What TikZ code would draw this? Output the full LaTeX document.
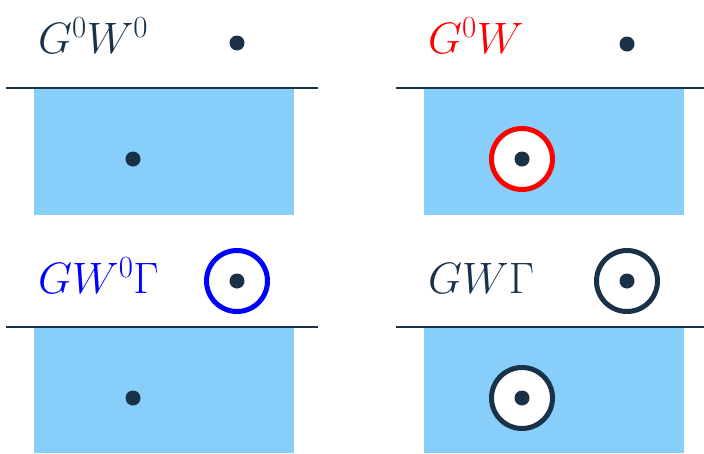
\RequirePackage{fix-cm}
\documentclass[tikz,border=0pt]{standalone}
\usepackage{amsmath}
\definecolor{navy}{HTML}{1A3248}
\definecolor{skyfill}{HTML}{87CEFA}
\tikzset{
  dotmark/.style={circle,fill=navy,inner sep=0pt,minimum size=15pt},
  ringmark/.style={circle,draw=#1,line width=5pt,fill=white,minimum size=61pt,inner sep=0pt},
  lbl/.style={anchor=base west,inner sep=0pt,font=\fontsize{44}{50}\selectfont},
  sea/.style={fill=skyfill,draw=none},
  surf/.style={draw=navy,line width=1.2pt}
}
\begin{document}
\begin{tikzpicture}[x=1pt,y=-1pt]
\useasboundingbox (0,0) rectangle (704,453);
% panel 1
\fill[sea] (34,88) rectangle (294,215);
\coordinate (s1a) at (6,88); \coordinate (s1b) at (318,88);
\draw[surf] (s1a) -- (s1b);
\node[lbl,text=navy] (l1) at (38,53) {$G^0W^0$};
\node[dotmark] (d1a) at (237,43) {};
\node[dotmark] (d1b) at (133,159) {};
% panel 2
\fill[sea] (424,88) rectangle (684,215);
\coordinate (s2a) at (396,88); \coordinate (s2b) at (708,88);
\draw[surf] (s2a) -- (s2b);
\node[lbl,text=red] (l2) at (428,53) {$G^0W$};
\node[dotmark] (d2a) at (627,44) {};
\node[ringmark=red] (r2) at (522,159) {};
\node[dotmark] (d2b) at (522,159) {};
% panel 3
\fill[sea] (34,327) rectangle (294,453);
\coordinate (s3a) at (6,327); \coordinate (s3b) at (318,327);
\draw[surf] (s3a) -- (s3b);
\node[lbl,text=blue] (l3) at (38,293) {$GW^0\Gamma$};
\node[ringmark=blue] (r3) at (237,281) {};
\node[dotmark] (d3a) at (237,281) {};
\node[dotmark] (d3b) at (133,398) {};
% panel 4
\fill[sea] (424,327) rectangle (684,453);
\coordinate (s4a) at (396,327); \coordinate (s4b) at (708,327);
\draw[surf] (s4a) -- (s4b);
\node[lbl,text=navy] (l4) at (428,293) {$GW\Gamma$};
\node[ringmark=navy] (r4) at (627,281) {};
\node[dotmark] (d4a) at (627,281) {};
\node[ringmark=navy] (r4b) at (522,398) {};
\node[dotmark] (d4b) at (522,398) {};
\end{tikzpicture}
\end{document}
